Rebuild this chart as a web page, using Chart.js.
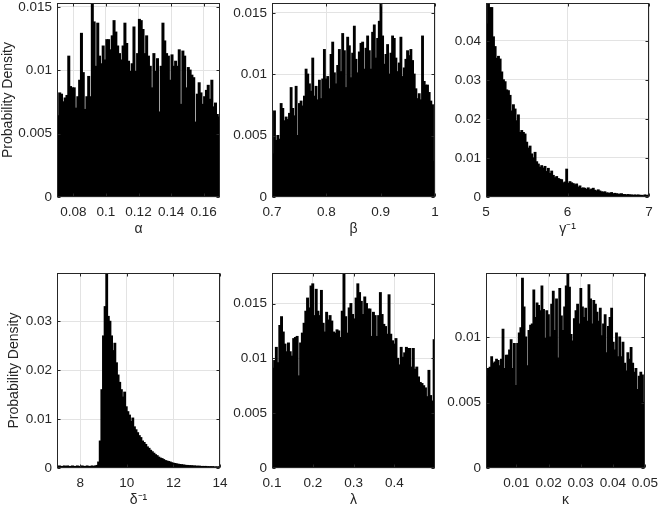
<!DOCTYPE html>
<html><head><meta charset="utf-8">
<script src="https://cdn.jsdelivr.net/npm/chart.js@4"></script>
<style>
html,body{margin:0;padding:0;background:#fff;width:664px;height:511px;overflow:hidden;position:relative}
canvas{position:absolute}
</style></head><body>
<canvas id="c1"></canvas><canvas id="c2"></canvas><canvas id="c3"></canvas>
<canvas id="c4"></canvas><canvas id="c5"></canvas><canvas id="c6"></canvas>
<script>
// ---- data (probability density per bin) ----
const alphaRange = [0.07, 0.17];
const alphaDensity = [0.0064,0.0082,0.0081,0.0075,0.0078,0.0080,0.0111,0.0087,0.0086,0.0086,0.0070,0.0079,0.0092,0.0129,0.0098,0.0069,0.0079,0.0095,0.0079,0.0153,0.0138,0.0103,0.0137,0.0111,0.0105,0.0119,0.0108,0.0124,0.0124,0.0116,0.0127,0.0139,0.0130,0.0119,0.0113,0.0108,0.0119,0.0137,0.0121,0.0107,0.0099,0.0105,0.0134,0.0099,0.0113,0.0140,0.0139,0.0132,0.0113,0.0127,0.0111,0.0103,0.0086,0.0113,0.0099,0.0109,0.0067,0.0103,0.0137,0.0123,0.0113,0.0111,0.0092,0.0112,0.0103,0.0107,0.0103,0.0116,0.0073,0.0115,0.0111,0.0086,0.0102,0.0100,0.0096,0.0094,0.0059,0.0081,0.0090,0.0082,0.0073,0.0079,0.0084,0.0088,0.0077,0.0092,0.0071,0.0074,0.0065,0.0063];
const alphaTicks = [0.08, 0.1, 0.12, 0.14, 0.16];
const alphaDensityTicks = [0, 0.005, 0.01, 0.015];
const alphaDensityMax = 0.0153;

const betaRange = [0.7, 1.0];
const betaDensity = [0.0035,0.0070,0.0046,0.0050,0.0047,0.0076,0.0072,0.0062,0.0065,0.0063,0.0068,0.0089,0.0072,0.0066,0.0090,0.0050,0.0076,0.0078,0.0074,0.0082,0.0104,0.0100,0.0092,0.0086,0.0113,0.0082,0.0090,0.0079,0.0095,0.0080,0.0096,0.0120,0.0096,0.0098,0.0088,0.0116,0.0126,0.0101,0.0092,0.0107,0.0120,0.0102,0.0133,0.0119,0.0089,0.0130,0.0123,0.0097,0.0117,0.0139,0.0112,0.0101,0.0118,0.0125,0.0126,0.0104,0.0121,0.0131,0.0119,0.0104,0.0134,0.0140,0.0113,0.0129,0.0143,0.0158,0.0131,0.0108,0.0116,0.0124,0.0100,0.0117,0.0131,0.0129,0.0113,0.0102,0.0109,0.0130,0.0098,0.0105,0.0112,0.0119,0.0115,0.0120,0.0111,0.0100,0.0088,0.0080,0.0084,0.0079,0.0131,0.0094,0.0091,0.0091,0.0085,0.0078,0.0075,0.0029];
const betaTicks = [0.7, 0.8, 0.9, 1];
const betaDensityTicks = [0, 0.005, 0.01, 0.015];
const betaDensityMax = 0.0158;

const gammaInvRange = [5, 7];
const gammaInvDensity = [0.0443,0.0497,0.0485,0.0485,0.0410,0.0385,0.0355,0.0360,0.0353,0.0320,0.0300,0.0295,0.0274,0.0272,0.0260,0.0220,0.0236,0.0225,0.0195,0.0210,0.0165,0.0170,0.0165,0.0161,0.0140,0.0125,0.0130,0.0110,0.0100,0.0114,0.0090,0.0084,0.0076,0.0080,0.0074,0.0078,0.0065,0.0073,0.0060,0.0066,0.0055,0.0049,0.0052,0.0047,0.0045,0.0044,0.0036,0.0038,0.0071,0.0035,0.0039,0.0036,0.0034,0.0031,0.0033,0.0025,0.0028,0.0022,0.0023,0.0022,0.0019,0.0023,0.0018,0.0020,0.0022,0.0017,0.0015,0.0018,0.0015,0.0013,0.0012,0.0013,0.0010,0.0010,0.0009,0.0011,0.0008,0.0009,0.0008,0.0007,0.0007,0.0008,0.0006,0.0006,0.0005,0.0006,0.0005,0.0005,0.0004,0.0005,0.0004,0.0005,0.0004,0.0004,0.0003,0.0005,0.0004,0.0004];
const gammaInvTicks = [5, 6, 7];
const gammaInvDensityTicks = [0, 0.01, 0.02, 0.03, 0.04];
const gammaInvDensityMax = 0.0497;

const deltaInvRange = [7, 14];
const deltaInvDensity = [0.0003,0.0004,0.0003,0.0003,0.0004,0.0003,0.0004,0.0003,0.0003,0.0004,0.0003,0.0003,0.0004,0.0003,0.0003,0.0004,0.0003,0.0003,0.0004,0.0003,0.0003,0.0004,0.0003,0.0004,0.0005,0.0012,0.0055,0.0160,0.0270,0.0330,0.0399,0.0310,0.0300,0.0270,0.0240,0.0255,0.0215,0.0190,0.0175,0.0160,0.0145,0.0155,0.0125,0.0115,0.0108,0.0095,0.0102,0.0084,0.0078,0.0072,0.0066,0.0062,0.0055,0.0052,0.0048,0.0043,0.0040,0.0036,0.0033,0.0030,0.0027,0.0025,0.0022,0.0020,0.0019,0.0017,0.0015,0.0014,0.0013,0.0012,0.00105,0.00095,0.0009,0.0008,0.00075,0.0007,0.00065,0.0006,0.00055,0.0005,0.0005,0.00045,0.00045,0.0004,0.0004,0.00035,0.00035,0.00035,0.0003,0.0003,0.0003,0.0003,0.00025,0.00025,0.00025,0.00025,0.0002,0.0002,0.0002,0.0002];
const deltaInvTicks = [8, 10, 12, 14];
const deltaInvDensityTicks = [0, 0.01, 0.02, 0.03];
const deltaInvDensityMax = 0.0399;

const lambdaRange = [0.1, 0.4995];
const lambdaDensity = [0.0091,0.0098,0.0110,0.0096,0.0130,0.0138,0.0124,0.0113,0.0106,0.0114,0.0106,0.0102,0.0118,0.0119,0.0120,0.0084,0.0114,0.0123,0.0132,0.0143,0.0155,0.0146,0.0166,0.0168,0.0139,0.0163,0.0143,0.0139,0.0162,0.0132,0.0124,0.0142,0.0135,0.0139,0.0134,0.0124,0.0123,0.0126,0.0125,0.0119,0.0143,0.0177,0.0138,0.0123,0.0146,0.0150,0.0140,0.0136,0.0155,0.0168,0.0160,0.0152,0.0140,0.0156,0.0150,0.0145,0.0145,0.0120,0.0142,0.0139,0.0120,0.0139,0.0160,0.0140,0.0131,0.0129,0.0122,0.0158,0.0122,0.0116,0.0113,0.0118,0.0100,0.0094,0.0110,0.0101,0.0105,0.0110,0.0109,0.0109,0.0092,0.0109,0.0090,0.0092,0.0083,0.0078,0.0077,0.0075,0.0073,0.0065,0.0089,0.0066,0.0061,0.0117];
const lambdaTicks = [0.1, 0.2, 0.3, 0.4];
const lambdaDensityTicks = [0, 0.005, 0.01, 0.015];
const lambdaDensityMax = 0.0178;

const kappaRange = [0.0005, 0.05];
const kappaDensity = [0.0070,0.0076,0.0077,0.0085,0.0080,0.0081,0.0083,0.0082,0.0078,0.0083,0.0106,0.0076,0.0086,0.0086,0.0090,0.0098,0.0076,0.0095,0.0063,0.0095,0.0103,0.0107,0.0145,0.0123,0.0100,0.0078,0.0105,0.0109,0.0110,0.0136,0.0115,0.0126,0.0124,0.0120,0.0139,0.0121,0.0099,0.0120,0.0117,0.0100,0.0125,0.0135,0.0105,0.0129,0.0084,0.0137,0.0116,0.0105,0.0123,0.0139,0.0149,0.0138,0.0102,0.0097,0.0114,0.0120,0.0125,0.0110,0.0137,0.0123,0.0115,0.0122,0.0112,0.0140,0.0129,0.0110,0.0128,0.0125,0.0119,0.0112,0.0122,0.0101,0.0110,0.0117,0.0088,0.0108,0.0115,0.0122,0.0096,0.0090,0.0103,0.0085,0.0100,0.0085,0.0096,0.0080,0.0074,0.0088,0.0083,0.0092,0.0080,0.0073,0.0076,0.0060,0.0070,0.0073,0.0071,0.0050];
const kappaTicks = [0.01, 0.02, 0.03, 0.04, 0.05];
const kappaDensityTicks = [0, 0.005, 0.01];
const kappaDensityMax = 0.0149;

const xLabels = ['α', 'β', 'γ⁻¹', 'δ⁻¹', 'λ', 'κ'];
const yLabel = 'Probability Density';

// ---- layout ----
const FONT = "'Liberation Sans', Arial, Helvetica, sans-serif";
const TEXT = '#262626';
const YAXIS_W = 57, PAD_TOP = 16, PAD_RIGHT = 16, XAXIS_H = 42;

const panels = [
  {id:'c1', range:alphaRange, dens:alphaDensity, xt:alphaTicks, yt:alphaDensityTicks, ymax:alphaDensityMax, xl:xLabels[0], yl:true, ylPad:0, left:57, top:3, h:194},
  {id:'c2', range:betaRange, dens:betaDensity, xt:betaTicks, yt:betaDensityTicks, ymax:betaDensityMax, xl:xLabels[1], yl:false, left:272, top:3, h:194},
  {id:'c3', range:gammaInvRange, dens:gammaInvDensity, xt:gammaInvTicks, yt:gammaInvDensityTicks, ymax:gammaInvDensityMax, xl:xLabels[2], yl:false, left:486, top:3, h:194},
  {id:'c4', range:deltaInvRange, dens:deltaInvDensity, xt:deltaInvTicks, yt:deltaInvDensityTicks, ymax:deltaInvDensityMax, xl:xLabels[3], yl:true, ylPad:6, left:57, top:273, h:195},
  {id:'c5', range:lambdaRange, dens:lambdaDensity, xt:lambdaTicks, yt:lambdaDensityTicks, ymax:lambdaDensityMax, xl:xLabels[4], yl:false, left:272, top:273, h:195},
  {id:'c6', range:kappaRange, dens:kappaDensity, xt:kappaTicks, yt:kappaDensityTicks, ymax:kappaDensityMax, xl:xLabels[5], yl:false, left:486, top:273, h:195}
];
const PLOT_W = 163;

const boxPlugin = {
  id: 'matlabBox',
  afterDraw(chart) {
    const {ctx, chartArea: a, scales: {x, y}} = chart;
    ctx.save();
    ctx.strokeStyle = TEXT;
    ctx.lineWidth = 1;
    const L = Math.round(a.left) + 0.5, R = Math.round(a.right) - 0.5;
    const T = Math.round(a.top) + 0.5, B = Math.round(a.bottom) - 0.5;
    ctx.strokeRect(L, T, R - L, B - T);
    ctx.beginPath();
    x.ticks.forEach(t => {
      const px = Math.round(x.getPixelForValue(t.value)) + 0.5;
      ctx.moveTo(px, B); ctx.lineTo(px, B - 3);
      ctx.moveTo(px, T); ctx.lineTo(px, T + 3);
    });
    y.ticks.forEach(t => {
      const py = Math.round(y.getPixelForValue(t.value)) + 0.5;
      ctx.moveTo(L, py); ctx.lineTo(L + 3, py);
      ctx.moveTo(R, py); ctx.lineTo(R - 3, py);
    });
    ctx.stroke();
    ctx.restore();
  }
};

panels.forEach(p => {
  const cv = document.getElementById(p.id);
  const W = YAXIS_W + PLOT_W + PAD_RIGHT;
  const H = PAD_TOP + p.h + XAXIS_H;
  cv.width = W; cv.height = H;
  cv.style.width = W + 'px'; cv.style.height = H + 'px';
  cv.style.left = (p.left - YAXIS_W) + 'px';
  cv.style.top = (p.top - PAD_TOP) + 'px';
  const [lo, hi] = p.range;
  const bw = (hi - lo) / p.dens.length;
  const pts = p.dens.map((v, i) => ({x: lo + (i + 0.5) * bw, y: v}));
  new Chart(cv, {
    type: 'bar',
    data: {datasets: [{data: pts, backgroundColor: '#000', borderWidth: 0,
      barPercentage: 1, categoryPercentage: 1, grouped: false, inflateAmount: 0.6}]},
    options: {
      responsive: false, animation: false, devicePixelRatio: 1,
      layout: {padding: {top: PAD_TOP, right: PAD_RIGHT, left: 0, bottom: 0}},
      plugins: {legend: {display: false}, tooltip: {enabled: false}},
      scales: {
        x: {
          type: 'linear', min: lo, max: hi, offset: false,
          afterBuildTicks: s => { s.ticks = p.xt.map(v => ({value: v})); },
          afterFit: s => { s.height = XAXIS_H; },
          grid: {color: '#e3e3e3', drawTicks: false, offset: false},
          border: {display: false},
          ticks: {color: TEXT, font: {family: FONT, size: 13.5}, padding: 7, maxRotation: 0, autoSkip: false,
            callback: v => String(v)},
          title: {display: true, text: p.xl, color: TEXT, font: {family: FONT, size: 14, lineHeight: 1.2}, padding: {top: 0, bottom: 1}}
        },
        y: {
          type: 'linear', min: 0, max: p.ymax,
          afterBuildTicks: s => { s.ticks = p.yt.map(v => ({value: v})); },
          afterFit: s => { s.width = YAXIS_W; },
          grid: {color: '#e3e3e3', drawTicks: false},
          border: {display: false},
          ticks: {color: TEXT, font: {family: FONT, size: 13.5}, padding: 5, autoSkip: false,
            callback: v => String(v)},
          title: {display: p.yl, text: yLabel, color: TEXT, font: {family: FONT, size: 14, lineHeight: 1.2}, padding: {top: p.ylPad || 0, bottom: 0}}
        }
      }
    },
    plugins: [boxPlugin]
  });
});
</script>
</body></html>
